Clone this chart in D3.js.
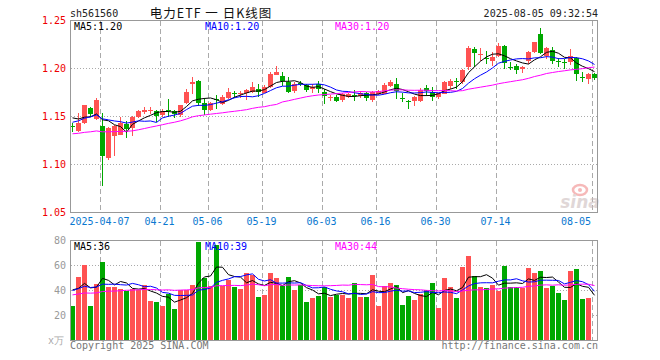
<!DOCTYPE html>
<html>
<head>
<meta charset="utf-8">
<script src="https://cdn.jsdelivr.net/npm/d3@7"></script>
<style>
  body { margin: 0; background: #fff; }
  svg { display: block; }
  text { font-family: "DejaVu Sans Mono", monospace; font-size: 10px; }
</style>
</head>
<body>
<svg id="chart" width="660" height="360"></svg>
<script>
// trading days shown (2025)
const dates = [
  '03-28','03-31','04-01','04-02','04-03','04-07','04-08','04-09','04-10','04-11',
  '04-14','04-15','04-16','04-17','04-18','04-21','04-22','04-23','04-24','04-25',
  '04-28','04-29','04-30','05-06','05-07','05-08','05-09','05-12','05-13','05-14',
  '05-15','05-16','05-19','05-20','05-21','05-22','05-23','05-26','05-27','05-28',
  '05-29','05-30','06-03','06-04','06-05','06-06','06-09','06-10','06-11','06-12',
  '06-13','06-16','06-17','06-18','06-19','06-20','06-23','06-24','06-25','06-26',
  '06-27','06-30','07-01','07-02','07-03','07-04','07-07','07-08','07-09','07-10',
  '07-11','07-14','07-15','07-16','07-17','07-18','07-21','07-22','07-23','07-24',
  '07-25','07-28','07-29','07-30','07-31','08-01','08-04','08-05'
];
const opens = [
  1.140,1.1354,1.143,1.159,1.147,1.1406,1.107,1.130,1.131,1.1424,
  1.138,1.149,1.155,1.1555,1.1555,1.1513,1.1565,1.1555,1.152,1.164,
  1.1837,1.1865,1.1645,1.157,1.168,1.163,1.169,1.1745,1.174,1.175,
  1.1755,1.179,1.1743,1.1805,1.1935,1.1917,1.186,1.1763,1.185,1.1825,
  1.179,1.184,1.176,1.1695,1.1705,1.1675,1.1705,1.1722,1.1715,1.1747,
  1.1667,1.1737,1.1735,1.1813,1.1835,1.1695,1.1658,1.166,1.1664,1.1802,
  1.176,1.1705,1.1734,1.1814,1.1875,1.1857,1.202,1.2208,1.2145,1.2105,
  1.2073,1.2132,1.223,1.2012,1.203,1.1997,1.2083,1.217,1.236,1.2128,
  1.2195,1.2075,1.2068,1.2066,1.2105,1.1915,1.1893,1.1945
];
const highs = [
  1.143,1.154,1.162,1.160,1.169,1.154,1.139,1.141,1.149,1.145,
  1.151,1.157,1.160,1.160,1.157,1.158,1.168,1.157,1.1625,1.179,
  1.191,1.188,1.169,1.165,1.172,1.172,1.180,1.177,1.177,1.179,
  1.186,1.184,1.183,1.196,1.203,1.196,1.191,1.186,1.187,1.184,
  1.184,1.1875,1.179,1.172,1.1725,1.175,1.1745,1.1775,1.177,1.176,
  1.177,1.178,1.1847,1.188,1.190,1.175,1.167,1.171,1.180,1.183,
  1.181,1.175,1.187,1.189,1.190,1.200,1.223,1.222,1.221,1.218,
  1.217,1.227,1.224,1.2065,1.205,1.203,1.218,1.228,1.242,1.2225,
  1.222,1.211,1.210,1.2205,1.212,1.196,1.195,1.195
];
const lows = [
  1.134,1.134,1.142,1.150,1.146,1.078,1.105,1.1086,1.131,1.128,
  1.130,1.148,1.153,1.153,1.144,1.150,1.149,1.148,1.150,1.163,
  1.173,1.161,1.152,1.156,1.158,1.162,1.168,1.169,1.169,1.167,
  1.175,1.170,1.174,1.180,1.193,1.182,1.174,1.175,1.182,1.176,
  1.1745,1.1745,1.163,1.166,1.165,1.165,1.1695,1.166,1.169,1.166,
  1.165,1.172,1.173,1.181,1.168,1.165,1.158,1.1607,1.165,1.171,
  1.166,1.168,1.173,1.179,1.179,1.184,1.198,1.202,1.208,1.205,
  1.203,1.212,1.200,1.198,1.194,1.195,1.205,1.216,1.215,1.210,
  1.205,1.202,1.200,1.204,1.1868,1.186,1.184,1.188
];
const closes = [
  1.139,1.143,1.1615,1.153,1.1667,1.1086,1.138,1.1406,1.1437,1.137,
  1.150,1.1555,1.157,1.1565,1.151,1.156,1.1555,1.153,1.1615,1.176,
  1.1855,1.164,1.157,1.164,1.167,1.1708,1.1753,1.1735,1.175,1.178,
  1.1805,1.1755,1.181,1.1938,1.1962,1.1868,1.1755,1.184,1.184,1.178,
  1.1805,1.179,1.1715,1.1705,1.1665,1.173,1.173,1.1712,1.1747,1.169,
  1.1753,1.177,1.1823,1.1857,1.1765,1.169,1.1653,1.170,1.1781,1.1766,
  1.170,1.174,1.1857,1.1865,1.1867,1.1985,1.221,1.216,1.2155,1.2095,
  1.2125,1.223,1.2055,1.2005,1.198,1.202,1.217,1.2275,1.2165,1.2211,
  1.2075,1.2068,1.2063,1.2135,1.1945,1.1905,1.1945,1.1905
];
// volume, 万
const volumes = [
  28,51.2,60.8,28,45.3,63.2,43.2,42.7,41.6,39.5,
  41.3,40.5,44.8,32,31.2,28,37.3,25,40.5,40.5,
  44.8,78.7,49.9,44,76.5,44,48.8,42.7,41.6,53.9,
  52.8,35.2,36.8,53.9,49.9,43.5,51.2,40.8,44.8,31.2,
  33.9,36,43.2,35.2,36.8,36.8,33.9,45.9,35.2,35.2,
  52.8,28,44,45.9,44.8,28.8,36,32.8,37.3,40.8,
  45.9,26.1,49.9,43.2,33.9,58.7,67.5,52,43.2,41.9,
  44.8,39.5,60,43.2,43.2,42.1,57.9,53.9,56,42,
  44,37.9,32.8,55.5,57,33.5,34,0.8
];
// sessions before the visible window, only used by the moving averages
const prevCloses = [
  1.128,1.132,1.136,1.139,1.137,1.135,1.138,1.134,1.136,1.135,
  1.122,1.118,1.115,1.113,1.116,1.114,1.118,1.117,1.120,1.117,
  1.128,1.134,1.140,1.145,1.150,1.149,1.152,1.151,1.152
];
const prevVolumes = [
  30,36,33,38,31,35,40,33,29,37,
  34,36,32,38,35,33,37,34,36,38,
  36,42,38,41,40.5,45,41,46,42.5
];
const priceTicks = [1.05, 1.10, 1.15, 1.20, 1.25];
const volTicks = [20, 40, 60, 80];
const dateTicks = ['04-07','04-21','05-06','05-19','06-03','06-16','06-30','07-14','08-05'];

const UP = '#ff5252', DOWN = '#00a800', GRID = '#aaaaaa', BORDER = '#999999';
const maDefs = [[5, '#000000', 74], [10, '#0000ff', 205], [30, '#ff00ff', 335]];

const svg = d3.select('#chart');
const x = d3.scaleBand().domain(dates).range([69.5, 597.5]).paddingInner(1 / 6).paddingOuter(1 / 12);
const cx = d => x(d) + x.bandwidth() / 2;
const yP = d3.scaleLinear().domain([1.05, 1.25]).range([212.5, 20.5]);
const yV = d3.scaleLinear().domain([0, 80]).range([340.5, 240.5]);

function movingAvg(prev, vals, n) {
  const all = prev.concat(vals);
  return vals.map((_, i) => d3.mean(all.slice(prev.length + i - n + 1, prev.length + i + 1)));
}

// header
svg.append('text').attr('x', 70).attr('y', 17).attr('fill', '#222').text('sh561560');
svg.append('text').attr('x', 211).attr('y', 18).attr('text-anchor', 'middle')
  .style('font-family', '"Noto Sans CJK SC", sans-serif').style('font-size', '12.5px')
  .style('letter-spacing', '1px').attr('fill', '#111').text('电力ETF 一 日K线图');
svg.append('text').attr('x', 598).attr('y', 17).attr('text-anchor', 'end').attr('fill', '#222')
  .text('2025-08-05 09:32:54');

// grids
function grid(g, yScale, ticks, top, bottom) {
  g.selectAll('.hg').data(ticks).enter().append('line')
    .attr('x1', 71).attr('x2', 597).attr('y1', d => yScale(d)).attr('y2', d => yScale(d))
    .attr('stroke', GRID).attr('stroke-dasharray', '1,2');
  g.selectAll('.vg').data(dateTicks).enter().append('line')
    .attr('x1', d => cx(d) - 2).attr('x2', d => cx(d) - 2).attr('y1', top).attr('y2', bottom)
    .attr('stroke', GRID).attr('stroke-dasharray', '5,3');
}
const main = svg.append('g').attr('shape-rendering', 'crispEdges');
grid(main, yP, [1.10, 1.15, 1.20], 21, 212);
const vol = svg.append('g').attr('shape-rendering', 'crispEdges');
grid(vol, yV, [20, 40, 60], 241, 340);

// watermark
const wm = svg.append('g').attr('opacity', 0.55);
wm.append('ellipse').attr('cx', 580).attr('cy', 190).attr('rx', 7).attr('ry', 5)
  .attr('fill', 'none').attr('stroke', '#f08080').attr('stroke-width', 2.5);
wm.append('circle').attr('cx', 580).attr('cy', 190).attr('r', 2).attr('fill', '#f08080');
wm.append('text').attr('x', 580).attr('y', 208).attr('text-anchor', 'middle')
  .style('font-family', '"DejaVu Sans", sans-serif').style('font-size', '17px')
  .style('font-style', 'italic').style('font-weight', 'bold').attr('fill', '#c8b8b8').text('sina');

// candles
const candles = main.selectAll('.c').data(dates).enter().append('g');
candles.append('line')
  .attr('x1', d => cx(d)).attr('x2', d => cx(d))
  .attr('y1', (d, i) => yP(highs[i])).attr('y2', (d, i) => yP(lows[i]))
  .attr('stroke', (d, i) => closes[i] >= opens[i] ? UP : DOWN);
candles.append('rect')
  .attr('x', d => x(d)).attr('width', x.bandwidth())
  .attr('y', (d, i) => yP(Math.max(opens[i], closes[i])))
  .attr('height', (d, i) => Math.max(1, Math.abs(yP(opens[i]) - yP(closes[i]))))
  .attr('fill', (d, i) => closes[i] >= opens[i] ? UP : DOWN);

// volume bars
vol.selectAll('.b').data(dates).enter().append('rect')
  .attr('x', d => x(d)).attr('width', x.bandwidth())
  .attr('y', (d, i) => yV(volumes[i]))
  .attr('height', (d, i) => Math.max(1, yV(0) - yV(volumes[i])))
  .attr('fill', (d, i) => closes[i] >= opens[i] ? UP : DOWN);

// moving averages + legends
maDefs.forEach(([n, color, lx]) => {
  const pm = movingAvg(prevCloses, closes, n);
  const vm = movingAvg(prevVolumes, volumes, n);
  svg.append('path').datum(pm)
    .attr('d', d3.line().x((d, i) => cx(dates[i])).y(d => yP(d)))
    .attr('fill', 'none').attr('stroke', color).attr('stroke-width', 1);
  svg.append('path').datum(vm)
    .attr('d', d3.line().x((d, i) => cx(dates[i])).y(d => yV(d)))
    .attr('fill', 'none').attr('stroke', color).attr('stroke-width', 1);
  svg.append('text').attr('x', lx).attr('y', 30).attr('fill', color)
    .text(`MA${n}:${pm[pm.length - 1].toFixed(2)}`);
  svg.append('text').attr('x', lx).attr('y', 250).attr('fill', color)
    .text(`MA${n}:${Math.round(vm[vm.length - 1])}`);
});

// borders
svg.append('rect').attr('x', 70.5).attr('y', 20.5).attr('width', 527).attr('height', 192)
  .attr('fill', 'none').attr('stroke', BORDER).attr('shape-rendering', 'crispEdges');
svg.append('rect').attr('x', 70.5).attr('y', 240.5).attr('width', 527).attr('height', 100)
  .attr('fill', 'none').attr('stroke', BORDER).attr('shape-rendering', 'crispEdges');

// axes
const pa = svg.append('g').attr('transform', 'translate(70,0)')
  .call(d3.axisLeft(yP).tickValues(priceTicks).tickSize(0).tickPadding(4).tickFormat(d3.format('.2f')));
pa.select('.domain').remove();
pa.selectAll('text').attr('fill', '#ee0000').attr('font-family', null).attr('font-size', null);

const va = svg.append('g').attr('transform', 'translate(70,0)')
  .call(d3.axisLeft(yV).tickValues(volTicks).tickSize(0).tickPadding(4));
va.select('.domain').remove();
va.selectAll('text').attr('fill', '#999999').attr('font-family', null).attr('font-size', null);
svg.append('text').attr('x', 64).attr('y', 344).attr('text-anchor', 'end').attr('fill', '#aaaaaa')
  .text('x万');

const da = svg.append('g').attr('transform', 'translate(0,212)')
  .call(d3.axisBottom(x).tickValues(dateTicks).tickSize(0).tickPadding(6)
    .tickFormat((d, i) => i === 0 ? '2025-' + d : d));
da.select('.domain').remove();
da.selectAll('text').attr('fill', '#0a78d0').attr('font-family', null).attr('font-size', null)
  .attr('dx', -3)
  .filter((d, i, nodes) => i === nodes.length - 1).attr('text-anchor', 'end').attr('dx', -3.5);

// footer
svg.append('text').attr('x', 70).attr('y', 349).attr('fill', '#777').text('Copyright 2025 SINA.COM');
svg.append('text').attr('x', 598).attr('y', 349).attr('text-anchor', 'end').attr('fill', '#777')
  .text('http://finance.sina.com.cn');
</script>
</body>
</html>
